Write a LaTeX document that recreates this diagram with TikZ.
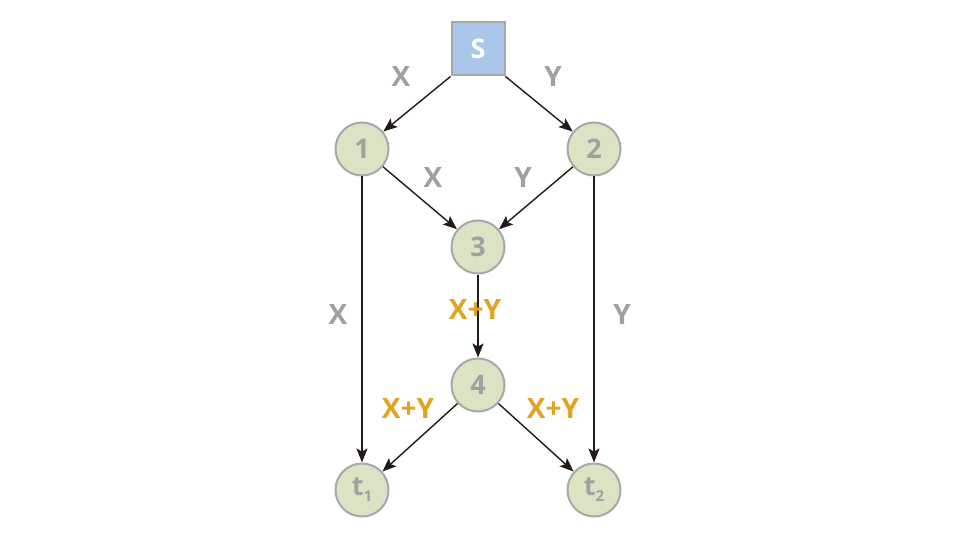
\documentclass[tikz,border=0pt]{standalone}
\usepackage{fontspec}
\setmainfont{Open Sans}
\usetikzlibrary{arrows.meta}
\definecolor{nodefill}{RGB}{218,228,196}
\definecolor{nodeline}{RGB}{168,168,168}
\definecolor{boxfill}{RGB}{170,198,235}
\definecolor{lblgrey}{RGB}{160,160,160}
\definecolor{lblorange}{RGB}{224,164,32}
\definecolor{arrowcol}{RGB}{35,25,25}
\tikzset{
  vert/.style={circle, draw=nodeline, line width=2pt, fill=nodefill, minimum size=53pt, inner sep=0pt, text=lblgrey, font=\fontsize{27}{29}\selectfont\bfseries},
  srcbox/.style={rectangle, draw=nodeline, line width=2pt, fill=boxfill, minimum size=53pt, inner sep=0pt, text=white, font=\fontsize{27}{29}\selectfont\bfseries},
  edge/.style={draw=arrowcol, line width=1.4pt, -{Stealth[length=14pt,width=11pt,inset=3pt]}},
  glbl/.style={text=lblgrey, font=\fontsize{28}{30}\selectfont\bfseries},
  olbl/.style={text=lblorange, font=\fontsize{28}{30}\selectfont\bfseries},
}
\begin{document}
\begin{tikzpicture}[x=1pt,y=-1pt]
\useasboundingbox (0,0) rectangle (960,540);
\node[srcbox] (s) at (478,49) {S};
\node[vert] (n1) at (362,149) {1};
\node[vert] (n2) at (594,149) {2};
\node[vert] (n3) at (478,247) {3};
\node[vert] (n4) at (478,385) {4};
\node[vert] (t1) at (362,490) {t\raisebox{-0.4ex}{\fontsize{15}{16}\selectfont 1}};
\node[vert] (t2) at (594,490) {t\raisebox{-0.4ex}{\fontsize{15}{16}\selectfont 2}};
\draw[edge] (s.south west) -- (n1);
\draw[edge] (s.south east) -- (n2);
\draw[edge] (n1) -- (n3);
\draw[edge] (n2) -- (n3);
\draw[edge] (n1) -- (t1);
\draw[edge] (n2) -- (t2);
\draw[edge] (n3) -- (n4);
\draw[edge] (n4) -- (t1);
\draw[edge] (n4) -- (t2);
\node[glbl] (l1) at (401,77) {X};
\node[glbl] (l2) at (553,77) {Y};
\node[glbl] (l3) at (433,178) {X};
\node[glbl] (l4) at (523,178) {Y};
\node[glbl] (l5) at (338,315) {X};
\node[glbl] (l6) at (622,315) {Y};
\node[olbl] (l7) at (475,310) {X+Y};
\node[olbl] (l8) at (408,409) {X+Y};
\node[olbl] (l9) at (553,409) {X+Y};
\end{tikzpicture}
\end{document}
